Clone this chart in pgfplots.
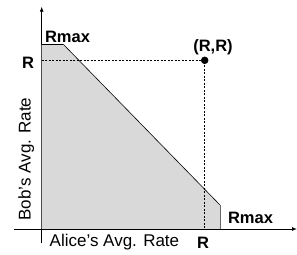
\documentclass[border=0pt]{standalone}
\usepackage{pgfplots}
\pgfplotsset{compat=1.18}
\usepackage{fontspec}
\setmainfont{Liberation Sans}
\usetikzlibrary{arrows.meta}
\begin{document}
\begin{tikzpicture}
\useasboundingbox (0,0) rectangle (297bp,255bp);
\begin{axis}[
  at={(41.7bp,26bp)}, anchor=origin,
  x=1bp, y=1bp,
  xmin=-27.7, xmax=255.3, ymin=-14, ymax=222.3,
  axis lines=middle,
  axis line style={line width=0.9pt, -{Latex[length=5bp,width=4bp]}},
  xtick=\empty, ytick=\empty,
  clip=false,
]
\addplot[fill=gray!30, draw=none] coordinates {(0,0) (0,184.7) (21.6,184.7) (178.3,24) (178.3,0)} -- cycle;
\addplot[black, line width=0.6pt] coordinates {(21.6,184.7) (178.3,24)};
\addplot[black, line width=1.3pt] coordinates {(0,184.7) (21.6,184.7)};
\addplot[gray!80!black, line width=0.9pt] coordinates {(178.3,24) (178.3,0)};
\addplot[black, dashed, dash pattern=on 2.2bp off 1.3bp, line width=0.6pt] coordinates {(0,168.7) (163,168.7) (163,0)};
\addplot[only marks, mark=*, mark size=3.5bp, black] coordinates {(163,168.7)};
\node[font=\bfseries\fontsize{16.5bp}{18bp}\selectfont] at (axis cs:25.8,192.5) {Rmax};
\node[font=\bfseries\fontsize{16.5bp}{18bp}\selectfont] at (axis cs:-13.7,166.5) {R};
\node[font=\bfseries\fontsize{16.5bp}{18bp}\selectfont] at (axis cs:171.3,181.5) {(R,R)};
\node[font=\bfseries\fontsize{16.5bp}{18bp}\selectfont] at (axis cs:161.3,-14) {R};
\node[font=\bfseries\fontsize{16.5bp}{18bp}\selectfont] at (axis cs:208.8,11.5) {Rmax};
\node[font=\fontsize{17bp}{19bp}\selectfont, anchor=west] at (axis cs:4.5,-13) {Alice's Avg. Rate};
\node[font=\fontsize{17bp}{19bp}\selectfont, rotate=90] at (axis cs:-15.5,70) {Bob's Avg. Rate};
\end{axis}
\end{tikzpicture}
\end{document}
